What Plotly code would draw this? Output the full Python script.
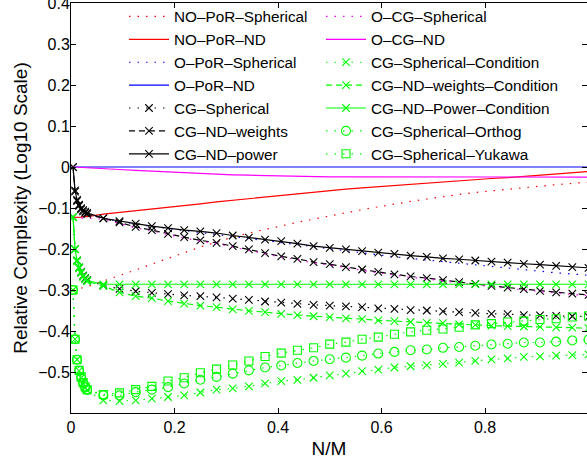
import plotly.graph_objects as go

# ---------------- data ----------------
M = 256
N = [1, 2, 3, 4, 5, 6, 7, 8, 16, 24, 32, 40, 48, 56, 64, 72, 80, 88, 96, 104,
     112, 120, 128, 136, 144, 152, 160, 168, 176, 184, 192, 200, 208, 216,
     224, 232, 240, 248, 256]
x = [n / M for n in N]

no_por_spherical = [-0.300, -0.299, -0.298, -0.297, -0.296, -0.295, -0.294, -0.292,
                    -0.278, -0.265, -0.251, -0.237, -0.223, -0.208, -0.195, -0.183,
                    -0.171, -0.161, -0.152, -0.143, -0.135, -0.127, -0.119, -0.111,
                    -0.104, -0.097, -0.090, -0.084, -0.078, -0.072, -0.067, -0.062,
                    -0.058, -0.054, -0.050, -0.046, -0.043, -0.040, -0.037]
no_por_nd = [-0.123, -0.123, -0.122, -0.122, -0.122, -0.121, -0.121, -0.121,
             -0.115, -0.111, -0.107, -0.102, -0.098, -0.094, -0.090, -0.085,
             -0.081, -0.077, -0.073, -0.069, -0.065, -0.061, -0.057, -0.054,
             -0.051, -0.048, -0.045, -0.042, -0.039, -0.036, -0.033, -0.031,
             -0.028, -0.026, -0.023, -0.020, -0.017, -0.014, -0.011]
o_por_spherical = [0.000, -0.058, -0.081, -0.093, -0.101, -0.106, -0.110, -0.113,
                   -0.126, -0.133, -0.139, -0.145, -0.150, -0.155, -0.159, -0.164,
                   -0.169, -0.174, -0.179, -0.184, -0.190, -0.195, -0.200, -0.205,
                   -0.210, -0.214, -0.219, -0.223, -0.227, -0.231, -0.235, -0.239,
                   -0.243, -0.247, -0.251, -0.254, -0.258, -0.261, -0.264]
o_por_nd = [0.0] * 39
cg_spherical = [-0.122, -0.200, -0.228, -0.245, -0.256, -0.265, -0.271, -0.276,
                -0.289, -0.297, -0.303, -0.307, -0.310, -0.313, -0.315, -0.318,
                -0.321, -0.324, -0.328, -0.331, -0.334, -0.336, -0.338, -0.340,
                -0.342, -0.345, -0.346, -0.349, -0.350, -0.352, -0.354, -0.356,
                -0.358, -0.359, -0.361, -0.362, -0.363, -0.364, -0.365]
cg_nd_weights = [0.000, -0.060, -0.083, -0.095, -0.103, -0.108, -0.112, -0.115,
                 -0.125, -0.135, -0.146, -0.154, -0.163, -0.171, -0.179, -0.185,
                 -0.193, -0.201, -0.210, -0.218, -0.224, -0.232, -0.237, -0.244,
                 -0.250, -0.256, -0.262, -0.267, -0.271, -0.276, -0.281, -0.285,
                 -0.290, -0.294, -0.298, -0.302, -0.306, -0.309, -0.312]
cg_nd_power = [0.000, -0.057, -0.080, -0.092, -0.100, -0.105, -0.109, -0.112,
               -0.125, -0.132, -0.138, -0.144, -0.149, -0.154, -0.157, -0.161,
               -0.167, -0.172, -0.177, -0.181, -0.187, -0.193, -0.197, -0.201,
               -0.205, -0.209, -0.212, -0.216, -0.219, -0.223, -0.225, -0.228,
               -0.231, -0.233, -0.236, -0.238, -0.241, -0.244, -0.246]
o_cg_spherical = [-0.124, -0.124, -0.124, -0.124, -0.125, -0.125, -0.125, -0.125,
                  -0.127, -0.137, -0.148, -0.156, -0.165, -0.173, -0.181, -0.187,
                  -0.195, -0.203, -0.212, -0.220, -0.226, -0.234, -0.239, -0.246,
                  -0.252, -0.258, -0.264, -0.269, -0.273, -0.278, -0.283, -0.287,
                  -0.292, -0.296, -0.300, -0.304, -0.308, -0.311, -0.314]
o_cg_nd = [0.000, -0.0003, -0.0006, -0.0009, -0.0012, -0.0015, -0.0018, -0.002,
           -0.004, -0.006, -0.008, -0.010, -0.012, -0.014, -0.016, -0.017,
           -0.019, -0.020, -0.021, -0.022, -0.023, -0.0235, -0.024, -0.024,
           -0.024, -0.0245, -0.0245, -0.0245, -0.0245, -0.0245, -0.0245, -0.0245,
           -0.0245, -0.0245, -0.0245, -0.0245, -0.0245, -0.0245, -0.0245]
cg_spherical_condition = [-0.300, -0.420, -0.470, -0.497, -0.514, -0.528, -0.538, -0.545,
                          -0.569, -0.571, -0.569, -0.565, -0.561, -0.557, -0.550, -0.543,
                          -0.540, -0.535, -0.528, -0.522, -0.519, -0.514, -0.508, -0.504,
                          -0.498, -0.494, -0.489, -0.486, -0.483, -0.480, -0.477, -0.473,
                          -0.469, -0.467, -0.463, -0.462, -0.460, -0.459, -0.457]
cg_nd_weights_condition = [-0.122, -0.201, -0.230, -0.247, -0.259, -0.268, -0.274, -0.279,
                           -0.290, -0.306, -0.315, -0.320, -0.327, -0.333, -0.338, -0.342,
                           -0.347, -0.351, -0.354, -0.358, -0.361, -0.364, -0.366, -0.369,
                           -0.371, -0.374, -0.376, -0.378, -0.380, -0.381, -0.384, -0.385,
                           -0.387, -0.388, -0.389, -0.390, -0.391, -0.392, -0.393]
cg_nd_power_condition = [-0.122, -0.200, -0.228, -0.245, -0.257, -0.266, -0.272, -0.277,
                         -0.286, -0.286, -0.286, -0.286, -0.286, -0.286, -0.286, -0.286,
                         -0.286, -0.286, -0.286, -0.286, -0.286, -0.286, -0.286, -0.286,
                         -0.286, -0.286, -0.286, -0.286, -0.286, -0.286, -0.286, -0.286,
                         -0.286, -0.286, -0.286, -0.286, -0.286, -0.286, -0.286]
cg_spherical_orthog = [-0.300, -0.420, -0.470, -0.497, -0.513, -0.527, -0.537, -0.544,
                       -0.557, -0.557, -0.549, -0.543, -0.537, -0.528, -0.519, -0.512,
                       -0.504, -0.496, -0.489, -0.484, -0.478, -0.473, -0.469, -0.465,
                       -0.460, -0.455, -0.451, -0.447, -0.445, -0.441, -0.439, -0.436,
                       -0.433, -0.431, -0.428, -0.428, -0.426, -0.423, -0.421]
cg_spherical_yukawa = [-0.300, -0.420, -0.470, -0.496, -0.512, -0.526, -0.536, -0.543,
                       -0.555, -0.551, -0.543, -0.535, -0.522, -0.514, -0.502, -0.493,
                       -0.483, -0.473, -0.462, -0.454, -0.447, -0.441, -0.432, -0.427,
                       -0.420, -0.415, -0.408, -0.402, -0.398, -0.395, -0.391, -0.385,
                       -0.382, -0.378, -0.376, -0.372, -0.370, -0.366, -0.363]

x_ticks = [0, 0.2, 0.4, 0.6, 0.8]
x_tick_labels = ['0', '0.2', '0.4', '0.6', '0.8']
y_ticks = [-0.5, -0.4, -0.3, -0.2, -0.1, 0, 0.1, 0.2, 0.3, 0.4]
y_tick_labels = ['\u22120.5', '\u22120.4', '\u22120.3', '\u22120.2', '\u22120.1',
                 '0', '0.1', '0.2', '0.3', '0.4']

# ---------------- styles ----------------
RED, BLUE, BLACK, MAG, GREEN = '#ff0000', '#0000ff', '#000000', '#ff00ff', '#00ff00'
DOT = '1.5px,7px'
DASH = '6px,4px'

series = [
    ('NO\u2013PoR\u2013Spherical', no_por_spherical, RED, DOT, None, 'legend'),
    ('NO\u2013PoR\u2013ND', no_por_nd, RED, 'solid', None, 'legend'),
    ('O\u2013PoR\u2013Spherical', o_por_spherical, BLUE, DOT, None, 'legend'),
    ('O\u2013PoR\u2013ND', o_por_nd, BLUE, 'solid', None, 'legend'),
    ('CG\u2013Spherical', cg_spherical, BLACK, DOT, 'x-thin-open', 'legend'),
    ('CG\u2013ND\u2013weights', cg_nd_weights, BLACK, DASH, 'x-thin-open', 'legend'),
    ('CG\u2013ND\u2013power', cg_nd_power, BLACK, 'solid', 'x-thin-open', 'legend'),
    ('O\u2013CG\u2013Spherical', o_cg_spherical, MAG, DOT, None, 'legend2'),
    ('O\u2013CG\u2013ND', o_cg_nd, MAG, 'solid', None, 'legend2'),
    ('CG\u2013Spherical\u2013Condition', cg_spherical_condition, GREEN, DOT, 'x-thin-open', 'legend2'),
    ('CG\u2013ND\u2013weights\u2013Condition', cg_nd_weights_condition, GREEN, DASH, 'x-thin-open', 'legend2'),
    ('CG\u2013ND\u2013Power\u2013Condition', cg_nd_power_condition, GREEN, 'solid', 'x-thin-open', 'legend2'),
    ('CG\u2013Spherical\u2013Orthog', cg_spherical_orthog, GREEN, DOT, 'circle-open', 'legend2'),
    ('CG\u2013Spherical\u2013Yukawa', cg_spherical_yukawa, GREEN, DOT, 'square-open', 'legend2'),
]

fig = go.Figure()
for name, yv, color, dash, sym, leg in series:
    if sym is None:
        fig.add_trace(go.Scatter(x=x, y=yv, name=name, mode='lines', legend=leg,
                                 line=dict(color=color, width=1.2, dash=dash)))
    else:
        size = {'x-thin-open': 7.5, 'circle-open': 9, 'square-open': 8}[sym]
        fig.add_trace(go.Scatter(x=x, y=yv, name=name, mode='lines+markers', legend=leg,
                                 line=dict(color=color, width=1.2, dash=dash),
                                 marker=dict(symbol=sym, size=size, color=color,
                                             line=dict(color=color, width=1.1))))

# empty trace to carry the mirrored right-hand ticks
fig.add_trace(go.Scatter(x=[], y=[], yaxis='y2', showlegend=False, hoverinfo='skip'))

font = dict(family='Liberation Sans, Arial, Helvetica, sans-serif', size=16, color='black')
leg_font = dict(family='Liberation Sans, Arial, Helvetica, sans-serif', size=15.3, color='black')
leg_common = dict(bgcolor='rgba(0,0,0,0)', borderwidth=0, font=leg_font, itemwidth=40,
                  yanchor='top', xanchor='left', tracegroupgap=0, itemclick=False)

fig.update_layout(
    width=587, height=462,
    margin=dict(l=71, r=0, t=3, b=49, pad=0, autoexpand=False),
    paper_bgcolor='white', plot_bgcolor='white',
    font=font,
    showlegend=True,
    legend=dict(x=(124 - 71) / 516, y=1.0 + 3 / 410, **leg_common),
    legend2=dict(x=(321 - 71) / 516, y=1.0 + 3 / 410, **leg_common),
    xaxis=dict(range=[0, 0.9971], tickmode='array', tickvals=x_ticks, ticktext=x_tick_labels,
               ticks='inside', ticklen=5, tickcolor='black', showline=True, linecolor='black',
               linewidth=1, mirror='ticks', showgrid=False, zeroline=False, automargin=False,
               title=dict(text='N/M', standoff=6)),
    yaxis=dict(range=[-0.6, 0.4001], tickmode='array', tickvals=y_ticks, ticktext=y_tick_labels,
               ticks='inside', ticklen=5, tickcolor='black', showline=True, linecolor='black',
               linewidth=1, showgrid=False, zeroline=False, ticklabelstandoff=-3,
               ticklabeloverflow='allow', automargin=False,
               title=dict(text='Relative Complexity (Log10 Scale)', standoff=5)),
    yaxis2=dict(range=[-0.6, 0.4001], overlaying='y', side='right', tickmode='array',
                tickvals=y_ticks, ticks='inside', ticklen=5, tickcolor='black',
                showticklabels=False, showline=False, showgrid=False, zeroline=False,
                automargin=False),
)

fig.write_html('out.html')
